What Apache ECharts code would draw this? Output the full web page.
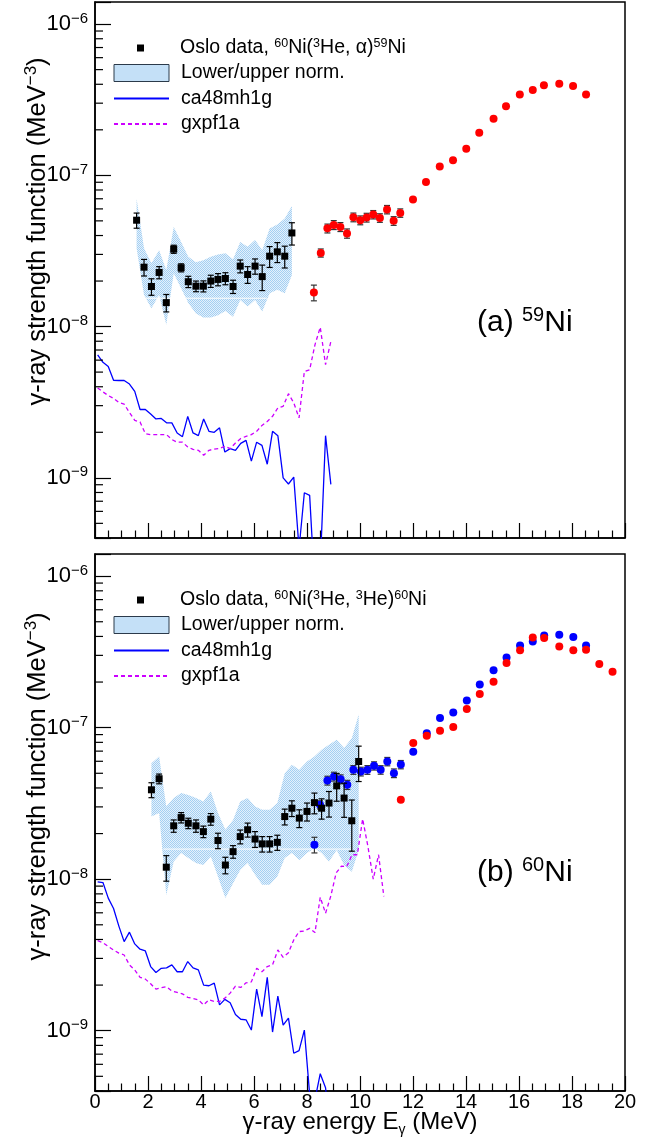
<!DOCTYPE html>
<html><head><meta charset="utf-8">
<script src="https://cdn.jsdelivr.net/npm/echarts@6/dist/echarts.min.js"></script>
<style>html,body{margin:0;padding:0;background:#fff}#c{width:660px;height:1148px}</style>
</head><body><div id="c"></div>
<script>
// ---------------- data ----------------
const thE = [0.1,0.3,0.5,0.7,0.9,1.1,1.3,1.5,1.7,1.9,2.1,2.3,2.5,2.7,2.9,3.1,3.3,3.5,3.7,3.9,4.1,4.3,4.5,4.7,4.9,5.1,5.3,5.5,5.7,5.9,6.1,6.3,6.5,6.7,6.9,7.1,7.3,7.5,7.7,7.9,8.1,8.3,8.5,8.7,8.9,9.1,9.3,9.5,9.7,9.9,10.1,10.3,10.5,10.7,10.9];
const ca48Top = [6.5e-9,5.8e-9,5.45e-9,4.41e-9,4.4e-9,4.4e-9,4.17e-9,3.73e-9,2.83e-9,2.83e-9,2.64e-9,2.45e-9,2.47e-9,2.31e-9,2.31e-9,1.98e-9,1.87e-9,2.55e-9,1.98e-9,1.9e-9,2.45e-9,2.03e-9,2.0e-9,2.14e-9,1.48e-9,1.56e-9,1.52e-9,1.69e-9,1.77e-9,1.29e-9,1.72e-9,1.64e-9,1.23e-9,2.03e-9,1.9e-9,1.0e-9,9.1e-10,1.01e-9,3.4e-10,7.97e-10,7.65e-10,1.8e-10,2.6e-10,1.9e-9,9.05e-10];
const gxpfTop = [3.93e-9,3.7e-9,3.5e-9,3.35e-9,3.15e-9,3.07e-9,2.7e-9,2.4e-9,2.34e-9,1.96e-9,1.93e-9,1.93e-9,1.93e-9,1.93e-9,1.79e-9,1.72e-9,1.72e-9,1.6e-9,1.54e-9,1.52e-9,1.41e-9,1.52e-9,1.55e-9,1.56e-9,1.62e-9,1.56e-9,1.7e-9,1.82e-9,1.88e-9,1.93e-9,2.03e-9,2.22e-9,2.36e-9,2.55e-9,2.9e-9,2.97e-9,3.6e-9,3.13e-9,2.49e-9,5.05e-9,5.18e-9,7.57e-9,9.9e-9,5.6e-9,7.96e-9];
const ca48Bot = [9.6e-9,9.5e-9,7.5e-9,6.4e-9,4.9e-9,3.87e-9,4.47e-9,3.74e-9,3.45e-9,3.36e-9,2.65e-9,2.42e-9,2.58e-9,2.6e-9,2.72e-9,2.45e-9,2.45e-9,2.86e-9,2.6e-9,2.52e-9,2.0e-9,1.98e-9,2.06e-9,1.48e-9,1.61e-9,1.53e-9,1.28e-9,1.19e-9,1.18e-9,1.01e-9,1.88e-9,1.24e-9,2.25e-9,9.8e-10,1.69e-9,1.09e-9,1.21e-9,7.1e-10,7.38e-10,1.01e-9,3.8e-10,3.5e-10,5.2e-10,4.2e-10,2.0e-10];
const gxpfBot = [3.93e-9,3.81e-9,3.6e-9,3.41e-9,3.25e-9,3.16e-9,2.72e-9,2.52e-9,2.25e-9,2.19e-9,2.04e-9,1.88e-9,1.92e-9,1.95e-9,1.83e-9,1.79e-9,1.75e-9,1.66e-9,1.63e-9,1.6e-9,1.48e-9,1.6e-9,1.56e-9,1.56e-9,1.64e-9,1.77e-9,1.97e-9,1.93e-9,2.07e-9,2.1e-9,2.58e-9,2.45e-9,2.65e-9,2.72e-9,3.41e-9,3.05e-9,3.27e-9,3.97e-9,4.51e-9,4.55e-9,4.74e-9,4.44e-9,7.6e-9,5.96e-9,7.76e-9,1.1e-8,1.22e-8,1.21e-8,1.45e-8,1.45e-8,2.5e-8,1.64e-8,1.0e-8,1.45e-8,7.7e-9];

const osloTopE = [1.57,1.85,2.13,2.42,2.69,2.97,3.25,3.52,3.81,4.09,4.37,4.64,4.92,5.21,5.48,5.76,6.04,6.31,6.59,6.88,7.16,7.43];
const osloTopY = [5.05e-8,2.47e-8,1.84e-8,2.28e-8,1.44e-8,3.25e-8,2.45e-8,1.98e-8,1.85e-8,1.85e-8,2.0e-8,2.05e-8,2.08e-8,1.84e-8,2.51e-8,2.21e-8,2.51e-8,2.14e-8,2.92e-8,3.12e-8,2.92e-8,4.16e-8];
const osloTopErr = [5.8e-9,3.1e-9,2.3e-9,2.1e-9,1.9e-9,2.0e-9,1.5e-9,1.7e-9,1.5e-9,1.55e-9,1.85e-9,1.9e-9,1.9e-9,1.85e-9,2.45e-9,2.8e-9,2.9e-9,4.1e-9,4.6e-9,4.7e-9,4.8e-9,7.0e-9];
const bandTopHi = [7.0e-8,3.29e-8,2.62e-8,3.2e-8,2.36e-8,4.56e-8,3.63e-8,2.89e-8,2.66e-8,2.75e-8,2.89e-8,3.0e-8,3.05e-8,2.79e-8,3.63e-8,3.37e-8,3.73e-8,3.2e-8,4.45e-8,4.73e-8,5.18e-8,6.28e-8];
const bandTopLo = [3.29e-8,1.62e-8,1.32e-8,1.62e-8,1.03e-8,2.25e-8,1.79e-8,1.43e-8,1.22e-8,1.15e-8,1.15e-8,1.19e-8,1.27e-8,1.16e-8,1.5e-8,1.36e-8,1.5e-8,1.26e-8,1.66e-8,1.75e-8,1.66e-8,2.19e-8];

const osloBotE = [2.13,2.42,2.69,2.97,3.25,3.52,3.81,4.09,4.37,4.64,4.92,5.21,5.48,5.76,6.04,6.31,6.59,6.88,7.16,7.43,7.71,8.0,8.28,8.55,8.83,9.12,9.4,9.69,9.95];
const osloBotY = [3.89e-8,4.6e-8,1.2e-8,2.25e-8,2.55e-8,2.34e-8,2.25e-8,2.06e-8,2.49e-8,1.8e-8,1.24e-8,1.52e-8,1.91e-8,2.12e-8,1.84e-8,1.71e-8,1.71e-8,1.75e-8,2.59e-8,2.94e-8,2.53e-8,2.8e-8,3.2e-8,2.94e-8,3.18e-8,4.13e-8,3.43e-8,2.43e-8,5.98e-8];
const osloBotErr = [4.4e-9,3.4e-9,2.3e-9,2.1e-9,2.0e-9,1.85e-9,2.1e-9,1.8e-9,2.2e-9,2.1e-9,1.55e-9,1.45e-9,2.0e-9,2.25e-9,2.2e-9,2.0e-9,2.0e-9,2.0e-9,3.1e-9,3.5e-9,3.4e-9,3.8e-9,5.0e-9,4.5e-9,6.1e-9,8.6e-9,8.7e-9,9.0e-9,1.57e-8];
const bandBotHi = [5.83e-8,6.45e-8,3.02e-8,3.43e-8,3.7e-8,3.6e-8,3.43e-8,3.26e-8,3.79e-8,2.73e-8,2.12e-8,2.46e-8,3.26e-8,3.43e-8,3.02e-8,2.87e-8,2.87e-8,3.18e-8,5.01e-8,5.69e-8,5.27e-8,5.98e-8,6.45e-8,7.14e-8,7.71e-8,8.32e-8,7.33e-8,8.5e-8,1.22e-7];
const bandBotLo = [2.59e-8,2.73e-8,7.87e-9,1.31e-8,1.49e-8,1.38e-8,1.28e-8,1.24e-8,1.41e-8,1.04e-8,7.5e-9,9.4e-9,1.15e-8,1.28e-8,1.07e-8,9.2e-9,9.2e-9,1.04e-8,1.38e-8,1.49e-8,1.34e-8,1.49e-8,1.6e-8,1.49e-8,1.31e-8,1.56e-8,1.24e-8,1.12e-8,1.56e-8];
// thin white seam visible inside each band
const seamTopE = [1.57, 6.48];
const seamTopY = [1.54e-8, 1.54e-8];
const seamBotE = [2.58, 9.69];
const seamBotY = [1.58e-8, 1.58e-8];

const redTopE = [8.26,8.52,8.77,9.01,9.26,9.51,9.75,10.01,10.25,10.5,10.75,11.02,11.27,11.52,12.0,12.49,13.01,13.51,14.01,14.5,15.04,15.51,16.03,16.52,16.94,17.52,18.04,18.53];
const redTopY = [1.68e-8,3.07e-8,4.46e-8,4.7e-8,4.56e-8,4.13e-8,5.28e-8,5.05e-8,5.26e-8,5.5e-8,5.23e-8,5.94e-8,5.0e-8,5.64e-8,6.92e-8,9.03e-8,1.146e-7,1.256e-7,1.5e-7,1.91e-7,2.37e-7,2.86e-7,3.42e-7,3.67e-7,3.94e-7,4.04e-7,3.9e-7,3.42e-7];
const redTopErr = [2.0e-9,1.9e-9,3.0e-9,3.2e-9,3.1e-9,2.9e-9,3.5e-9,3.4e-9,3.5e-9,3.5e-9,3.4e-9,3.8e-9,3.3e-9,3.6e-9,0,0,0,0,0,0,0,0,0,0,0,0,0,0];

const blueBotE = [8.28,8.49,8.77,9.02,9.27,9.52,9.75,10.03,10.28,10.53,10.78,11.03,11.28,11.54,12.01,12.52,13.02,13.52,14.03,14.52,15.04,15.53,16.04,16.52,16.95,17.52,18.05,18.53];
const blueBotY = [1.69e-8,3.1e-8,4.48e-8,4.76e-8,4.57e-8,4.2e-8,5.27e-8,5.14e-8,5.27e-8,5.6e-8,5.27e-8,5.98e-8,5.01e-8,5.71e-8,6.93e-8,9.2e-8,1.156e-7,1.26e-7,1.51e-7,1.93e-7,2.39e-7,2.9e-7,3.48e-7,3.71e-7,4.05e-7,4.11e-7,3.97e-7,3.48e-7];
const blueBotErr = [2.0e-9,1.9e-9,3.0e-9,3.2e-9,3.1e-9,2.9e-9,3.5e-9,3.4e-9,3.5e-9,3.5e-9,3.4e-9,3.8e-9,3.3e-9,3.6e-9,0,0,0,0,0,0,0,0,0,0,0,0,0,0];

const redBotE = [11.54,12.01,12.52,13.02,13.52,14.03,14.52,15.04,15.53,16.04,16.52,16.95,17.52,18.05,18.53,19.03,19.53];
const redBotY = [3.34e-8,7.91e-8,8.85e-8,9.55e-8,1.01e-7,1.33e-7,1.67e-7,2.01e-7,2.67e-7,3.24e-7,3.94e-7,3.91e-7,3.43e-7,3.24e-7,3.27e-7,2.63e-7,2.34e-7];

const yDecades = [-10,-9,-8,-7,-6];
const osloNames = ['Oslo data, 60Ni(3He, α)59Ni', 'Oslo data, 60Ni(3He, 3He)60Ni'];
const osloRich = ['Oslo data, {s|60}Ni({s|3}He, α){s|59}Ni', 'Oslo data, {s|60}Ni({s|3}He, {s|3}He){s|60}Ni'];
const bandName = 'Lower/upper norm.';
const ca48Name = 'ca48mh1g';
const gxpfName = 'gxpf1a';
const panelLabels = ['(a) {s|59}Ni', '(b) {s|60}Ni'];
const yTitle = 'γ-ray strength function (MeV{s|−3})';
const xTitle = 'γ-ray energy E{u|γ} (MeV)';

// ---------------- chart ----------------
const FONT = '"Liberation Sans", Arial, Helvetica, sans-serif';
function makePattern() {
  const c = document.createElement('canvas'); c.width = 2; c.height = 2;
  const g = c.getContext('2d');
  g.fillStyle = '#e4f1fc'; g.fillRect(0, 0, 2, 2);
  g.fillStyle = '#a4cff2'; g.fillRect(0, 0, 1, 1); g.fillRect(1, 1, 1, 1);
  return c;
}
const BAND = { image: makePattern(), repeat: 'repeat' };
const pairs = (xs, ys) => ys.map((y, i) => [xs[i], y]);
const triples = (xs, ys, es) => ys.map((y, i) => [xs[i], y, es[i]]);

const minorVals = [];
yDecades.forEach(d => { for (let k = 2; k <= 9; k++) minorVals.push([0, k * Math.pow(10, d)]); });

function bandSeries(p, E, lo, hi) {
  return {
    type: 'custom', name: bandName, xAxisIndex: p, yAxisIndex: p, z: 1, silent: true, clip: true,
    itemStyle: { color: BAND, borderColor: '#2b3a4a', borderWidth: 1 },
    data: E.map((e, i) => [e, lo[i], hi[i]]),
    encode: { x: 0, y: [1, 2] },
    renderItem: (params, api) => {
      if (params.dataIndex !== 0) return null;
      const pts = [];
      for (let i = 0; i < E.length; i++) pts.push(api.coord([E[i], hi[i]]));
      for (let i = E.length - 1; i >= 0; i--) pts.push(api.coord([E[i], lo[i]]));
      return { type: 'polygon', shape: { points: pts }, style: { fill: BAND } };
    }
  };
}
function errSeries(p, data, color, z) {
  return {
    type: 'custom', name: 'err' + p + color, xAxisIndex: p, yAxisIndex: p, z: z, silent: true, clip: true,
    data: data, encode: { x: 0, y: 1 },
    renderItem: (params, api) => {
      const x = api.value(0), v = api.value(1), e = api.value(2);
      if (!e) return null;
      const lo = api.coord([x, v - e]), hi = api.coord([x, v + e]);
      const w = 3, st = { stroke: color, lineWidth: 1.2 };
      return { type: 'group', children: [
        { type: 'line', shape: { x1: lo[0], y1: lo[1], x2: hi[0], y2: hi[1] }, style: st },
        { type: 'line', shape: { x1: lo[0] - w, y1: lo[1], x2: lo[0] + w, y2: lo[1] }, style: st },
        { type: 'line', shape: { x1: hi[0] - w, y1: hi[1], x2: hi[0] + w, y2: hi[1] }, style: st }
      ]};
    }
  };
}
function lineSeries(p, name, E, ys, color, dashed, width, z) {
  return {
    type: 'line', name: name, xAxisIndex: p, yAxisIndex: p, z: z || 2, silent: true, clip: true,
    symbol: 'none', showSymbol: false, animation: false,
    lineStyle: { color: color, width: width || 1.3, type: dashed ? [4, 3] : 'solid' },
    itemStyle: { color: color },
    data: pairs(E, ys)
  };
}
function scatterSeries(p, name, E, ys, color, symbol, size, z) {
  return {
    type: 'scatter', name: name, xAxisIndex: p, yAxisIndex: p, z: z, silent: true,
    symbol: symbol, symbolSize: size, itemStyle: { color: color, opacity: 1 },
    data: pairs(E, ys)
  };
}
function minorTickSeries(p) {
  return {
    type: 'custom', name: 'minor' + p, xAxisIndex: p, yAxisIndex: p, z: 10, silent: true, clip: true,
    data: minorVals, encode: { x: 0, y: 1 },
    renderItem: (params, api) => {
      const c = api.coord([0, api.value(1)]);
      return { type: 'line', shape: { x1: c[0], y1: c[1], x2: c[0] + 8, y2: c[1] }, style: { stroke: '#000', lineWidth: 1.2 } };
    }
  };
}

const fmtY = v => {
  const l = Math.log10(v), r = Math.round(l);
  if (Math.abs(l - r) > 1e-6) return '';
  return '{b|10}{s|\u2212' + (-r) + '}';
};
function xAxisCfg(p) {
  return {
    type: 'value', gridIndex: p, min: 0, max: 20, interval: 2,
    axisLine: { show: true, onZero: false, lineStyle: { color: '#000', width: 1.5 } },
    axisTick: { show: true, inside: true, length: 15, lineStyle: { color: '#000', width: 1.2 } },
    minorTick: { show: true, splitNumber: 4, length: 7.5, lineStyle: { color: '#000', width: 1.2 } },
    splitLine: { show: false }, minorSplitLine: { show: false },
    axisLabel: { show: p === 1, fontSize: 20, color: '#000', fontFamily: FONT, margin: 1 },
    name: p === 1 ? xTitle : '', nameLocation: 'middle', nameGap: 16, nameMoveOverlap: false,
    nameTextStyle: { fontSize: 24, fontFamily: FONT, color: '#000', lineHeight: 30,
      rich: { u: { fontSize: 14, lineHeight: 4, verticalAlign: 'bottom', fontFamily: FONT, color: '#000' } } }
  };
}
function yAxisCfg(p) {
  return {
    type: 'log', logBase: 10, gridIndex: p, min: 4e-10, max: 1.4e-6,
    axisLine: { show: true, onZero: false, lineStyle: { color: '#000', width: 1.5 } },
    axisTick: { show: true, inside: true, length: 16, lineStyle: { color: '#000', width: 1.2 } },
    splitLine: { show: false }, minorTick: { show: false },
    axisLabel: { margin: 7, formatter: fmtY, color: '#000',
      rich: { b: { fontSize: 22, lineHeight: 26, fontFamily: FONT, color: '#000' },
              s: { fontSize: 15, lineHeight: 8, verticalAlign: 'top', fontFamily: FONT, color: '#000' } } },
    name: yTitle, nameLocation: 'middle', nameGap: 42, nameMoveOverlap: false,
    nameTextStyle: { fontSize: 25.5, fontFamily: FONT, color: '#000', lineHeight: 30, padding: [0, 0, 0, p === 0 ? 77 : 72],
      rich: { s: { fontSize: 17, lineHeight: 8, verticalAlign: 'top', fontFamily: FONT, color: '#000' } } }
  };
}
const legendText = { fontSize: 19.5, fontFamily: FONT, color: '#000', lineHeight: 22, padding: [0, 0, 0, 7],
  rich: { s: { fontSize: 12.5, lineHeight: 6, verticalAlign: 'top', fontFamily: FONT, color: '#000' } } };
const legendFmt = name => { const i = osloNames.indexOf(name); return i >= 0 ? osloRich[i] : name; };
function legends(p, topA, topB) {
  return [
    { left: 137, top: topA, orient: 'vertical', padding: 0, itemWidth: 55, itemHeight: 7, symbolKeepAspect: true,
      selectedMode: false, textStyle: legendText, formatter: legendFmt,
      data: [{ name: osloNames[p], icon: 'path://M0,0L10,0L10,10L0,10Z' }] },
    { left: 113, top: topB, orient: 'vertical', padding: 0, itemWidth: 55, itemHeight: 17, itemGap: 3.5,
      selectedMode: false, textStyle: legendText, formatter: legendFmt,
      data: [{ name: bandName, icon: 'rect', itemStyle: { color: BAND, borderColor: '#2b3a4a', borderWidth: 1 } },
             { name: ca48Name, itemStyle: { opacity: 0 } },
             { name: gxpfName, itemStyle: { opacity: 0 } }] }
  ];
}

const series = [
  bandSeries(0, osloTopE, bandTopLo, bandTopHi),
  lineSeries(0, 'seam0', seamTopE, seamTopY, '#ffffff', false, 1, 1),
  lineSeries(0, ca48Name, thE, ca48Top, '#0000ff', false),
  lineSeries(0, gxpfName, thE, gxpfTop, '#cc00ff', true),
  errSeries(0, triples(osloTopE, osloTopY, osloTopErr), '#000', 4),
  scatterSeries(0, osloNames[0], osloTopE, osloTopY, '#000', 'rect', 7, 5),
  errSeries(0, triples(redTopE, redTopY, redTopErr), '#333', 5),
  scatterSeries(0, 'red0', redTopE, redTopY, '#ff0000', 'circle', 8, 6),
  minorTickSeries(0),

  bandSeries(1, osloBotE, bandBotLo, bandBotHi),
  lineSeries(1, 'seam1', seamBotE, seamBotY, '#ffffff', false, 1, 1),
  lineSeries(1, ca48Name, thE, ca48Bot, '#0000ff', false),
  lineSeries(1, gxpfName, thE, gxpfBot, '#cc00ff', true),
  errSeries(1, triples(blueBotE, blueBotY, blueBotErr), '#333', 3),
  scatterSeries(1, 'blue1', blueBotE, blueBotY, '#0000ff', 'circle', 8, 3),
  errSeries(1, triples(osloBotE, osloBotY, osloBotErr), '#000', 4),
  scatterSeries(1, osloNames[1], osloBotE, osloBotY, '#000', 'rect', 7, 5),
  scatterSeries(1, 'red1', redBotE, redBotY, '#ff0000', 'circle', 8, 6),
  minorTickSeries(1)
];

const chart = echarts.init(document.getElementById('c'), null, { renderer: 'canvas' });
chart.setOption({
  animation: false,
  backgroundColor: '#fff',
  grid: [
    { left: 95, top: 2, width: 530, height: 536, show: true, borderColor: '#000', borderWidth: 1.5, outerBoundsMode: 'none', containLabel: false },
    { left: 95, top: 554, width: 530, height: 537, show: true, borderColor: '#000', borderWidth: 1.5, outerBoundsMode: 'none', containLabel: false }
  ],
  xAxis: [xAxisCfg(0), xAxisCfg(1)],
  yAxis: [yAxisCfg(0), yAxisCfg(1)],
  legend: [].concat(legends(0, 37, 62), legends(1, 589, 614)),
  graphic: [
    { type: 'text', x: 477, y: 323, silent: true, style: { text: panelLabels[0], fontSize: 30, fontFamily: FONT, fill: '#000', verticalAlign: 'middle', lineHeight: 36,
      rich: { s: { fontSize: 20, lineHeight: 4, verticalAlign: 'top', fontFamily: FONT, fill: '#000' } } } },
    { type: 'text', x: 477, y: 873, silent: true, style: { text: panelLabels[1], fontSize: 30, fontFamily: FONT, fill: '#000', verticalAlign: 'middle', lineHeight: 36,
      rich: { s: { fontSize: 20, lineHeight: 4, verticalAlign: 'top', fontFamily: FONT, fill: '#000' } } } }
  ],
  series: series
});
</script></body></html>
